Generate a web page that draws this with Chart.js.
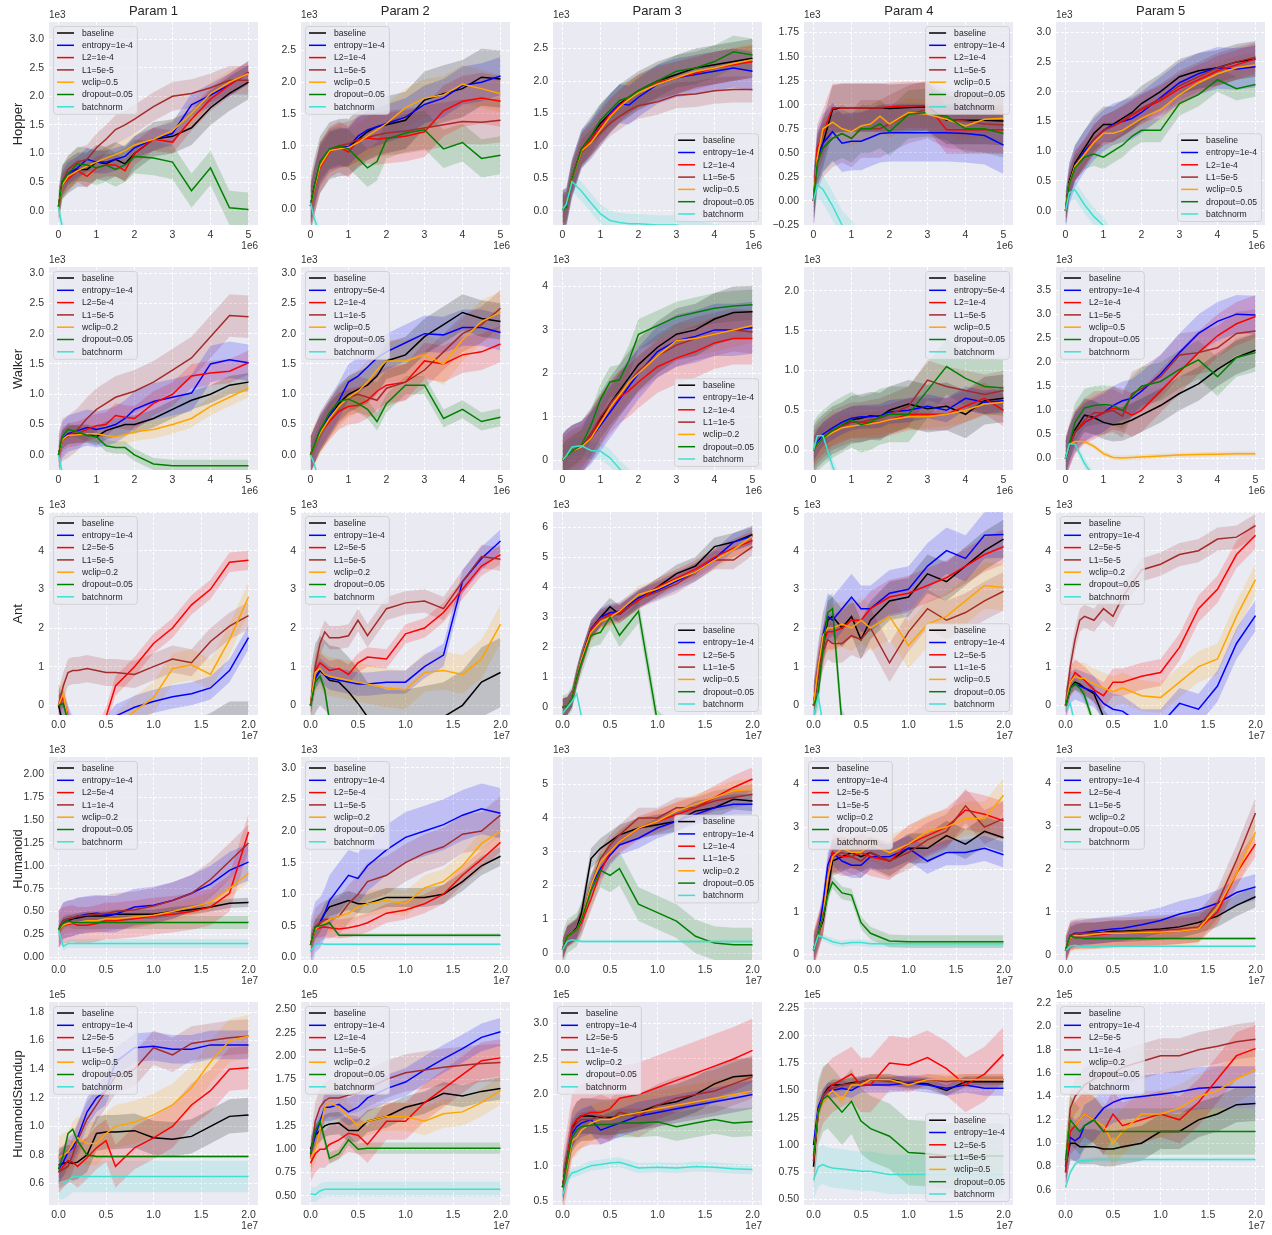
<!DOCTYPE html>
<html>
<head>
<meta charset="utf-8">
<script src="https://cdn.jsdelivr.net/npm/chart.js@4.4.0/dist/chart.umd.min.js"></script>
<style>
  body { margin: 0; width: 1272px; height: 1235px; background: #fff; position: relative; overflow: hidden;
         font-family: "Liberation Sans", Arial, sans-serif; }
  canvas { position: absolute; }
  .title { position: absolute; top: 3px; width: 209px; text-align: center; font-size: 13px; line-height: 16px; color: #262626; }
  .rowlab { position: absolute; width: 203px; height: 16px; line-height: 16px; text-align: center; font-size: 13px;
            color: #262626; transform: rotate(-90deg); }
</style>
</head>
<body>
<script>
"use strict";

// x grids: rows 1-2 in units of 1e6 steps, rows 3-5 in units of 1e7 steps
const stepsShort = [0, 0.1, 0.25, 0.5, 0.75, 1, 1.25, 1.5, 1.75, 2, 2.5, 3, 3.5, 4, 4.5, 5];
const stepsLong = [0, 0.05, 0.1, 0.15, 0.2, 0.3, 0.4, 0.5, 0.6, 0.8, 1.0, 1.2, 1.4, 1.6, 1.8, 2.0];
const xTicksShort = [0, 1, 2, 3, 4, 5];
const xTicksLong = [0, 0.5, 1, 1.5, 2];
const paramTitles = ["Param 1", "Param 2", "Param 3", "Param 4", "Param 5"];
const envNames = ["Hopper", "Walker", "Ant", "Humanoid", "HumanoidStandup"];
const yExponents = ["1e3", "1e3", "1e3", "1e3", "1e5"];
const xExponents = ["1e6", "1e6", "1e7", "1e7", "1e7"];

// ---------- Hopper ----------
const hopperP1Labels = ["baseline", "entropy=1e-4", "L2=1e-4", "L1=5e-5", "wclip=0.5", "dropout=0.05", "batchnorm"];
const hopperP1 = [
  [0.07,0.5,0.6,0.72,0.72,0.85,0.82,0.9,0.82,1.0,1.25,1.3,1.45,1.8,2.05,2.25],
  [0.07,0.5,0.65,0.75,0.9,0.85,0.85,0.9,0.95,1.1,1.25,1.35,1.85,2.02,2.2,2.42],
  [0.07,0.45,0.55,0.7,0.6,0.75,0.8,0.8,0.7,1.0,1.25,1.2,1.6,1.95,2.2,2.42],
  [0.07,0.5,0.72,0.85,0.9,1.1,1.25,1.42,1.5,1.6,1.82,2.0,2.05,2.15,2.28,2.28],
  [0.07,0.45,0.6,0.7,0.78,0.85,0.92,0.98,1.05,1.15,1.25,1.4,1.7,2.05,2.25,2.4],
  [0.07,0.5,0.65,0.82,0.8,0.75,0.8,0.72,0.8,0.95,0.92,0.85,0.35,0.75,0.05,0.02],
  [0.07,-0.3,-0.6,-0.8,-0.8,-0.8,-0.8,-0.8,-0.8,-0.8,-0.8,-0.8,-0.8,-0.8,-0.8,-0.8]
];
const hopperP1Spread = [0.3, 0.2, 0.2, 0.25, 0.2, 0.3, 0.15];
const hopperP1Y = [-0.25, 3.3, 0.5, 1];

const hopperP2Labels = ["baseline", "entropy=1e-4", "L2=1e-4", "L1=5e-5", "wclip=0.5", "dropout=0.05", "batchnorm"];
const hopperP2 = [
  [0.05,0.35,0.7,0.92,0.97,0.98,1.1,1.22,1.3,1.33,1.4,1.72,1.82,1.9,2.08,2.05],
  [0.05,0.35,0.7,0.92,0.97,0.98,1.15,1.25,1.3,1.35,1.45,1.65,1.75,1.95,2.0,2.1],
  [0.05,0.3,0.65,0.9,0.98,0.9,1.08,1.12,1.1,1.12,1.15,1.22,1.55,1.7,1.75,1.7],
  [0.05,0.32,0.7,0.92,1.0,1.03,1.1,1.13,1.17,1.2,1.23,1.28,1.33,1.38,1.37,1.4],
  [0.05,0.32,0.68,0.92,0.95,0.97,1.05,1.15,1.25,1.35,1.6,1.75,1.8,1.97,1.9,1.82],
  [0.05,0.35,0.75,0.95,1.0,0.95,0.8,0.65,0.75,1.1,1.2,1.25,0.95,1.05,0.8,0.85],
  [0.1,-0.15,-0.4,-0.8,-0.8,-0.8,-0.8,-0.8,-0.8,-0.8,-0.8,-0.8,-0.8,-0.8,-0.8,-0.8]
];
const hopperP2Spread = [0.45, 0.3, 0.4, 0.35, 0.3, 0.3, 0.1];
const hopperP2Y = [-0.25, 2.95, 0.5, 1];

const hopperP3Labels = ["baseline", "entropy=1e-4", "L2=1e-4", "L1=5e-5", "wclip=0.5", "dropout=0.05", "batchnorm"];
const hopperP3 = [
  [0.02,0.05,0.5,0.95,1.15,1.35,1.5,1.65,1.75,1.85,2.0,2.1,2.2,2.25,2.3,2.35],
  [0.02,0.05,0.5,0.95,1.1,1.3,1.5,1.65,1.63,1.75,1.95,2.05,2.1,2.15,2.2,2.15],
  [0.02,0.05,0.5,0.95,1.1,1.3,1.48,1.62,1.75,1.85,1.98,2.05,2.12,2.2,2.25,2.3],
  [0.02,0.05,0.5,0.9,1.05,1.2,1.35,1.45,1.55,1.62,1.68,1.78,1.8,1.85,1.87,1.87],
  [0.02,0.05,0.5,0.92,1.05,1.25,1.45,1.6,1.72,1.82,1.95,2.05,2.15,2.2,2.27,2.33],
  [0.02,0.05,0.5,0.95,1.15,1.4,1.55,1.7,1.75,1.85,2.0,2.15,2.2,2.3,2.45,2.4],
  [0.02,0.1,0.45,0.3,0.12,-0.05,-0.15,-0.18,-0.2,-0.2,-0.22,-0.22,-0.3,-0.35,-0.4,-0.4]
];
const hopperP3Spread = [0.3, 0.3, 0.25, 0.2, 0.25, 0.25, 0.15];
const hopperP3Y = [-0.22, 2.91, 0.5, 1];

const hopperP4Labels = ["baseline", "entropy=1e-4", "L2=1e-4", "L1=5e-5", "wclip=0.5", "dropout=0.05", "batchnorm"];
const hopperP4 = [
  [0,0.45,0.6,0.95,0.97,0.97,0.97,0.97,0.97,0.96,0.97,0.98,0.84,0.84,0.84,0.83],
  [0,0.45,0.6,0.72,0.6,0.62,0.62,0.66,0.7,0.71,0.71,0.71,0.71,0.7,0.68,0.58],
  [0,0.55,0.7,0.97,0.97,0.97,0.97,0.97,0.97,0.98,0.99,0.99,0.74,0.74,0.74,0.74],
  [0,0.4,0.55,0.65,0.7,0.65,0.75,0.75,0.75,0.8,0.9,0.95,0.85,0.83,0.8,0.79],
  [0,0.45,0.75,0.82,0.75,0.72,0.78,0.8,0.88,0.8,0.92,0.9,0.85,0.78,0.85,0.86],
  [0,0.4,0.55,0.65,0.7,0.65,0.75,0.75,0.8,0.72,0.9,0.92,0.88,0.75,0.75,0.7],
  [0,0.17,0.12,-0.05,-0.25,-0.35,-0.5,-0.5,-0.5,-0.5,-0.5,-0.5,-0.5,-0.5,-0.5,-0.5]
];
const hopperP4Spread = [0.25, 0.3, 0.25, 0.3, 0.15, 0.25, 0.15];
const hopperP4Y = [-0.25, 1.86, 0.25, 2];

const hopperP5Labels = ["baseline", "entropy=1e-4", "L2=1e-4", "L1=5e-5", "wclip=0.5", "dropout=0.05", "batchnorm"];
const hopperP5 = [
  [0,0.5,0.8,1.05,1.3,1.45,1.45,1.55,1.65,1.8,2.0,2.25,2.35,2.4,2.5,2.55],
  [0,0.45,0.75,1.0,1.2,1.35,1.45,1.5,1.55,1.65,1.9,2.15,2.3,2.4,2.38,2.42],
  [0,0.45,0.75,0.95,1.2,1.35,1.42,1.5,1.6,1.7,1.85,2.05,2.2,2.35,2.45,2.55],
  [0,0.45,0.75,0.95,1.2,1.35,1.42,1.52,1.62,1.72,1.88,2.1,2.25,2.4,2.5,2.58],
  [0,0.45,0.75,0.95,1.15,1.3,1.3,1.35,1.45,1.55,1.7,1.95,2.15,2.3,2.4,2.45],
  [0,0.45,0.72,0.9,0.95,0.9,1.0,1.1,1.25,1.35,1.35,1.8,1.95,2.2,2.05,2.12],
  [0,0.3,0.35,0.1,-0.1,-0.25,-0.5,-0.5,-0.5,-0.5,-0.5,-0.5,-0.5,-0.5,-0.5,-0.5]
];
const hopperP5Spread = [0.3, 0.35, 0.25, 0.25, 0.2, 0.2, 0.15];
const hopperP5Y = [-0.24, 3.17, 0.5, 1];

// ---------- Walker ----------
const walkerP1Labels = ["baseline", "entropy=1e-4", "L2=5e-4", "L1=5e-5", "wclip=0.2", "dropout=0.05", "batchnorm"];
const walkerP1 = [
  [0,0.25,0.33,0.35,0.35,0.3,0.4,0.45,0.5,0.5,0.6,0.75,0.9,1.0,1.15,1.2],
  [0,0.25,0.35,0.4,0.45,0.42,0.45,0.5,0.6,0.75,0.88,0.95,1.02,1.5,1.57,1.52],
  [0,0.25,0.32,0.35,0.42,0.48,0.5,0.65,0.62,0.6,0.85,1.0,1.3,1.35,1.38,1.52],
  [0,0.25,0.3,0.42,0.6,0.75,0.85,0.95,1.0,1.05,1.2,1.4,1.6,1.95,2.3,2.28],
  [0,0.25,0.32,0.33,0.35,0.35,0.32,0.3,0.33,0.38,0.42,0.5,0.6,0.8,0.95,1.1],
  [0,0.3,0.42,0.38,0.32,0.3,0.15,0.12,0.12,0.0,-0.15,-0.18,-0.18,-0.18,-0.18,-0.18],
  [0,-0.3,-0.6,-0.8,-0.8,-0.8,-0.8,-0.8,-0.8,-0.8,-0.8,-0.8,-0.8,-0.8,-0.8,-0.8]
];
const walkerP1Spread = [0.15, 0.3, 0.2, 0.35, 0.15, 0.1, 0.1];
const walkerP1Y = [-0.25, 3.1, 0.5, 1];

const walkerP2Labels = ["baseline", "entropy=5e-4", "L2=1e-4", "L1=1e-5", "wclip=0.5", "dropout=0.05", "batchnorm"];
const walkerP2 = [
  [0,0.15,0.35,0.6,0.85,1.0,1.08,1.15,1.3,1.55,1.65,1.95,2.15,2.35,2.25,2.2],
  [0,0.15,0.4,0.65,0.9,1.2,1.3,1.45,1.6,1.7,1.85,2.0,1.98,2.1,2.1,2.02],
  [0,0.15,0.35,0.55,0.72,0.8,0.82,0.9,1.05,1.15,1.2,1.55,1.5,1.65,1.7,1.83],
  [0,0.15,0.35,0.6,0.8,0.95,1.0,0.95,0.9,1.1,1.2,1.4,1.7,2.0,2.15,2.42],
  [0,0.15,0.35,0.6,0.8,0.95,1.05,1.2,1.4,1.55,1.55,1.65,1.5,1.9,2.2,2.35],
  [0,0.15,0.4,0.7,0.88,0.92,0.85,0.75,0.55,0.85,1.15,1.15,0.6,0.75,0.55,0.62],
  [0,-0.15,-0.5,-0.8,-0.8,-0.8,-0.8,-0.8,-0.8,-0.8,-0.8,-0.8,-0.8,-0.8,-0.8,-0.8]
];
const walkerP2Spread = [0.3, 0.3, 0.3, 0.3, 0.35, 0.15, 0.05];
const walkerP2Y = [-0.25, 3.1, 0.5, 1];

const walkerP3Labels = ["baseline", "entropy=1e-4", "L2=1e-4", "L1=1e-5", "wclip=0.2", "dropout=0.05", "batchnorm"];
const walkerP3 = [
  [0,0.1,0.2,0.3,0.6,0.95,1.3,1.6,1.9,2.2,2.6,2.9,3.0,3.25,3.4,3.42],
  [0,0.1,0.2,0.3,0.5,0.8,1.1,1.4,1.7,2.0,2.5,2.75,2.85,3.0,3.0,3.05],
  [0,0.1,0.2,0.3,0.55,0.9,1.2,1.45,1.6,1.8,2.15,2.35,2.5,2.7,2.8,2.8],
  [0,0.1,0.2,0.3,0.6,1.0,1.3,1.55,1.8,2.05,2.4,2.65,2.8,2.9,3.0,2.95],
  [0,0.1,0.2,0.3,0.5,0.85,1.2,1.5,1.8,2.0,2.4,2.75,2.8,2.9,3.0,3.1],
  [0,0.1,0.2,0.35,0.8,1.4,1.8,1.85,2.3,2.9,3.1,3.3,3.4,3.5,3.55,3.58],
  [0,0.1,0.3,0.33,0.22,0.2,0.05,-0.2,-0.4,-0.6,-0.6,-0.6,-0.6,-0.6,-0.6,-0.6]
];
const walkerP3Spread = [0.6, 0.6, 0.6, 0.5, 0.4, 0.35, 0.2];
const walkerP3Y = [-0.23, 4.45, 1, 0];

const walkerP4Labels = ["baseline", "entropy=5e-4", "L2=1e-4", "L1=5e-5", "wclip=0.5", "dropout=0.05", "batchnorm"];
const walkerP4 = [
  [0,0.08,0.15,0.25,0.3,0.38,0.4,0.43,0.42,0.5,0.58,0.52,0.55,0.45,0.62,0.65],
  [0,0.1,0.2,0.28,0.35,0.4,0.42,0.42,0.43,0.48,0.5,0.55,0.5,0.65,0.6,0.62],
  [0,0.08,0.15,0.25,0.3,0.35,0.35,0.35,0.35,0.38,0.45,0.45,0.45,0.55,0.65,0.5],
  [0,0.08,0.15,0.25,0.3,0.35,0.35,0.38,0.4,0.45,0.55,0.88,0.8,0.75,0.7,0.75],
  [0,0.08,0.15,0.22,0.28,0.3,0.32,0.33,0.35,0.38,0.42,0.42,0.45,0.5,0.58,0.6],
  [0,0.08,0.15,0.25,0.32,0.38,0.32,0.35,0.42,0.45,0.45,0.75,1.05,0.9,0.8,0.78],
  [0,0.18,0.18,-0.2,-0.5,-0.5,-0.5,-0.5,-0.5,-0.5,-0.5,-0.5,-0.5,-0.5,-0.5,-0.5]
];
const walkerP4Spread = [0.3, 0.15, 0.2, 0.25, 0.15, 0.35, 0.1];
const walkerP4Y = [-0.25, 2.3, 0.5, 1];

const walkerP5Labels = ["baseline", "entropy=1e-4", "L2=1e-4", "L1=5e-5", "wclip=0.5", "dropout=0.05", "batchnorm"];
const walkerP5 = [
  [0,0.3,0.6,0.9,0.85,0.75,0.7,0.72,0.8,0.9,1.1,1.35,1.55,1.85,2.1,2.25],
  [0,0.25,0.55,0.75,0.85,0.95,1.1,1.2,1.25,1.4,1.75,2.2,2.6,2.85,3.0,2.98],
  [0,0.25,0.55,0.75,0.85,0.95,1.05,1.0,0.9,1.0,1.4,1.8,2.2,2.55,2.8,2.95],
  [0,0.25,0.55,0.8,0.95,0.95,1.0,0.88,1.35,1.45,1.7,2.15,2.2,2.3,2.6,2.65],
  [0,0.3,0.35,0.35,0.25,0.1,0.02,0.01,0.02,0.03,0.05,0.07,0.08,0.09,0.1,0.1],
  [0,0.3,0.75,1.05,1.1,1.12,1.1,1.0,1.3,1.5,1.6,1.85,2.05,1.7,2.1,2.2],
  [0,0.3,0.3,-0.1,-0.4,-0.6,-0.6,-0.6,-0.6,-0.6,-0.6,-0.6,-0.6,-0.6,-0.6,-0.6]
];
const walkerP5Spread = [0.35, 0.4, 0.45, 0.45, 0.05, 0.4, 0.1];
const walkerP5Y = [-0.24, 3.98, 0.5, 1];

// ---------- Ant ----------
const antP1Labels = ["baseline", "entropy=1e-4", "L2=5e-5", "L1=5e-5", "wclip=0.2", "dropout=0.05", "batchnorm"];
const antP1 = [
  [0,-0.5,-1,-1,-1,-1,-1,-1,-1,-1,-1,-1,-1,-0.8,-0.5,-0.5],
  [0,0.05,-0.3,-0.6,-0.8,-0.9,-0.8,-0.6,-0.28,-0.05,0.1,0.22,0.3,0.45,0.9,1.75],
  [0,0.2,-0.3,-0.8,-1,-1,-0.8,-0.3,0.5,1.0,1.6,2.0,2.6,3.0,3.7,3.75],
  [0,0.5,0.85,0.9,0.9,0.95,0.9,0.85,0.85,0.8,1.0,1.2,1.1,1.65,2.05,2.32],
  [0,0.3,-0.4,-1,-1,-1,-1,-1,-0.6,-0.15,0.2,0.95,1.05,0.8,1.7,2.8],
  [0,0.05,-0.4,-1,-1,-1,-1,-1,-1,-1,-1,-1,-1,-1,-1,-1],
  [-0.3,-1,-1,-1,-1,-1,-1,-1,-1,-1,-1,-1,-1,-1,-1,-1]
];
const antP1Spread = [0.6, 0.3, 0.25, 0.35, 0.4, 0.1, 0.1];
const antP1Y = [-0.25, 5.0, 1, 0];

const antP2Labels = ["baseline", "entropy=1e-4", "L2=5e-5", "L1=5e-5", "wclip=0.2", "dropout=0.05", "batchnorm"];
const antP2 = [
  [0,0.7,0.9,0.78,0.65,0.6,0.35,0.05,-0.3,-0.5,-0.5,-0.4,-0.3,0.0,0.6,0.85],
  [0,0.7,0.92,0.8,0.7,0.65,0.6,0.55,0.55,0.6,0.6,1.0,1.3,3.2,3.8,4.25],
  [0,0.9,1.1,1.0,0.9,0.95,0.8,1.1,1.25,1.2,1.85,2.0,2.4,3.0,3.6,3.9],
  [0,1.0,1.6,1.9,1.75,1.75,1.8,2.2,1.8,2.5,2.65,2.7,2.5,3.2,3.85,3.78],
  [0,0.85,0.95,0.8,0.75,0.7,0.65,0.6,0.55,0.45,0.4,0.85,0.9,0.8,1.2,2.1],
  [0,0.6,0.75,0.4,-0.4,-1,-1,-1,-1,-1,-1,-1,-1,-1,-1,-1],
  [-0.3,-1,-1,-1,-1,-1,-1,-1,-1,-1,-1,-1,-1,-1,-1,-1]
];
const antP2Spread = [0.9, 0.3, 0.25, 0.3, 0.5, 0.15, 0.1];
const antP2Y = [-0.25, 5.0, 1, 0];

const antP3Labels = ["baseline", "entropy=1e-4", "L2=5e-5", "L1=1e-5", "wclip=0.5", "dropout=0.05", "batchnorm"];
const antP3 = [
  [0,0.05,0.3,1.0,1.6,2.6,3.0,3.35,3.1,3.6,4.0,4.45,4.7,5.35,5.5,5.75],
  [0,0.05,0.3,1.0,1.6,2.6,3.0,3.15,3.2,3.65,3.9,4.2,4.5,4.95,5.5,5.7],
  [0,0.05,0.3,1.0,1.6,2.6,2.95,3.1,3.15,3.55,4.0,4.3,4.6,5.0,5.3,5.55],
  [0,0.05,0.3,1.0,1.6,2.5,2.95,3.05,3.1,3.6,3.85,4.1,4.5,4.9,4.9,5.35],
  [0,0.05,0.3,1.0,1.6,2.5,2.85,3.0,3.2,3.75,3.95,4.25,4.5,4.9,5.25,5.7],
  [0,0.05,0.3,1.0,1.5,2.4,2.5,3.0,2.4,3.2,-0.5,-1,-1,-1,-1,-1],
  [-0.2,0.0,0.2,0.45,-0.3,-1,-1,-1,-1,-1,-1,-1,-1,-1,-1,-1]
];
const antP3Spread = [0.3, 0.3, 0.3, 0.3, 0.3, 0.4, 0.1];
const antP3Y = [-0.25, 6.5, 1, 0];

const antP4Labels = ["baseline", "entropy=1e-4", "L2=5e-5", "L1=1e-5", "wclip=0.5", "dropout=0.05", "batchnorm"];
const antP4 = [
  [0,0.8,1.5,2.2,2.3,2.0,2.3,1.7,2.2,2.7,2.8,3.4,3.2,3.6,4.0,4.3],
  [0,1.0,1.8,2.3,2.2,2.5,2.8,2.5,2.5,2.9,3.0,3.6,4.0,3.8,4.4,4.42],
  [0,1.0,1.6,1.9,1.9,2.0,2.2,2.2,2.5,2.8,2.9,3.1,3.3,3.6,3.9,4.1],
  [0,0.8,1.4,1.7,1.6,1.6,1.8,1.7,2.0,1.1,1.9,2.5,2.2,2.4,2.7,2.95],
  [0,1.0,1.8,2.0,2.0,2.1,2.0,2.2,2.0,2.3,1.55,2.1,2.3,2.7,3.1,3.05],
  [0,0.3,1.5,2.4,2.5,-0.5,-1,-1,-1,-1,-1,-1,-1,-1,-1,-1],
  [-0.3,0.25,-0.5,-1,-1,-1,-1,-1,-1,-1,-1,-1,-1,-1,-1,-1]
];
const antP4Spread = [0.5, 0.6, 0.45, 0.5, 0.6, 0.4, 0.1];
const antP4Y = [-0.25, 5.0, 1, 0];

const antP5Labels = ["baseline", "entropy=1e-4", "L2=5e-5", "L1=5e-5", "wclip=0.2", "dropout=0.05", "batchnorm"];
const antP5 = [
  [0,0.45,0.6,0.55,0.45,0.3,-0.3,-0.6,-1,-1,-1,-1,-1,-1,-1,-1],
  [0,0.45,0.55,0.5,0.45,0.35,0.05,-0.1,-0.15,-0.5,-0.5,0.05,-0.1,0.5,1.6,2.32],
  [0,0.6,0.85,0.75,0.65,0.4,0.25,0.6,0.6,0.75,0.85,1.5,2.5,3.0,3.9,4.4],
  [0,1.0,1.7,2.2,2.3,2.2,2.5,2.3,2.8,3.5,3.65,3.9,4.0,4.3,4.35,4.65],
  [0,0.6,0.75,0.7,0.7,0.55,0.45,0.35,0.45,0.25,0.2,0.6,1.0,1.2,2.3,3.25],
  [0,0.45,0.55,0.45,0.25,-0.5,-1,-1,-1,-1,-1,-1,-1,-1,-1,-1],
  [-0.1,0.05,-0.5,-1,-1,-1,-1,-1,-1,-1,-1,-1,-1,-1,-1,-1]
];
const antP5Spread = [0.2, 0.4, 0.35, 0.3, 0.4, 0.15, 0.1];
const antP5Y = [-0.25, 5.0, 1, 0];

// ---------- Humanoid ----------
const humanoidP1Labels = ["baseline", "entropy=1e-4", "L2=5e-4", "L1=1e-4", "wclip=0.2", "dropout=0.05", "batchnorm"];
const humanoidP1 = [
  [0.3,0.38,0.4,0.42,0.43,0.45,0.45,0.45,0.47,0.47,0.47,0.5,0.52,0.55,0.59,0.6],
  [0.3,0.4,0.42,0.43,0.45,0.47,0.48,0.47,0.47,0.55,0.57,0.62,0.7,0.8,0.95,1.04],
  [0.3,0.35,0.36,0.37,0.35,0.35,0.37,0.4,0.4,0.42,0.45,0.47,0.5,0.55,0.7,1.37],
  [0.3,0.4,0.42,0.43,0.45,0.46,0.47,0.48,0.5,0.52,0.56,0.62,0.7,0.85,1.05,1.25],
  [0.3,0.35,0.37,0.38,0.38,0.4,0.4,0.42,0.42,0.44,0.46,0.5,0.55,0.6,0.75,0.92],
  [0.3,0.38,0.4,0.38,0.38,0.38,0.38,0.38,0.38,0.38,0.38,0.38,0.38,0.38,0.38,0.38],
  [0.3,0.12,0.15,0.15,0.15,0.15,0.15,0.15,0.15,0.15,0.15,0.15,0.15,0.15,0.15,0.15]
];
const humanoidP1Spread = [0.05, 0.2, 0.2, 0.2, 0.1, 0.07, 0.05];
const humanoidP1Y = [-0.03, 2.19, 0.25, 2];

const humanoidP2Labels = ["baseline", "entropy=1e-4", "L2=5e-4", "L1=5e-5", "wclip=0.2", "dropout=0.05", "batchnorm"];
const humanoidP2 = [
  [0.2,0.45,0.55,0.7,0.8,0.85,0.9,0.85,0.85,0.95,0.95,0.95,1.0,1.2,1.45,1.6],
  [0.2,0.48,0.55,0.7,0.9,1.1,1.3,1.25,1.45,1.7,1.9,2.0,2.1,2.25,2.35,2.28],
  [0.2,0.45,0.47,0.48,0.47,0.45,0.47,0.5,0.55,0.7,0.75,0.85,1.0,1.3,1.55,1.82],
  [0.2,0.48,0.55,0.6,0.6,0.65,0.85,1.0,1.2,1.3,1.5,1.65,1.75,1.95,2.0,2.25],
  [0.2,0.45,0.5,0.55,0.6,0.65,0.7,0.8,0.85,0.9,0.85,1.1,1.2,1.45,1.8,2.0],
  [0.2,0.48,0.5,0.52,0.55,0.35,0.35,0.35,0.35,0.35,0.35,0.35,0.35,0.35,0.35,0.35],
  [0.1,0.2,0.22,0.21,0.21,0.21,0.21,0.21,0.21,0.21,0.21,0.21,0.21,0.21,0.21,0.21]
];
const humanoidP2Spread = [0.15, 0.4, 0.15, 0.3, 0.2, 0.03, 0.02];
const humanoidP2Y = [-0.04, 3.17, 0.5, 1];

const humanoidP3Labels = ["baseline", "entropy=1e-4", "L2=1e-4", "L1=1e-5", "wclip=0.2", "dropout=0.05", "batchnorm"];
const humanoidP3 = [
  [0.1,0.5,0.6,0.75,1.2,2.8,3.1,3.3,3.5,3.7,3.8,3.9,4.2,4.3,4.55,4.5],
  [0.1,0.5,0.6,0.7,1.0,2.0,2.5,2.9,3.2,3.4,3.7,3.9,4.1,4.3,4.4,4.4],
  [0.1,0.5,0.6,0.7,0.9,1.6,2.4,3.0,3.3,3.7,3.9,4.1,4.3,4.6,4.9,5.15],
  [0.1,0.5,0.6,0.7,1.0,2.0,2.8,3.2,3.5,4.0,4.0,4.3,4.3,4.5,4.6,4.7],
  [0.1,0.5,0.6,0.7,1.0,2.0,2.7,3.0,3.3,3.7,3.9,4.2,4.4,4.6,4.8,4.85],
  [0.1,0.5,0.6,0.7,1.0,1.85,2.45,2.3,2.5,1.45,1.2,0.95,0.5,0.3,0.25,0.25],
  [0.1,0.35,0.4,0.38,0.35,0.35,0.35,0.35,0.35,0.35,0.35,0.35,0.35,0.35,0.35,0.35]
];
const humanoidP3Spread = [0.3, 0.3, 0.35, 0.3, 0.3, 0.5, 0.05];
const humanoidP3Y = [-0.2, 5.8, 1, 0];

const humanoidP4Labels = ["baseline", "entropy=1e-4", "L2=5e-5", "L1=5e-5", "wclip=0.2", "dropout=0.05", "batchnorm"];
const humanoidP4 = [
  [0.1,0.5,0.8,1.5,2.2,2.3,2.4,2.3,2.4,2.2,2.5,2.5,2.8,2.6,2.9,2.75],
  [0.1,0.5,1.2,2.1,2.4,2.2,2.1,2.1,2.3,2.3,2.5,2.2,2.4,2.4,2.5,2.35],
  [0.1,0.5,0.9,1.8,2.4,2.3,2.3,2.4,2.3,2.2,2.6,2.8,3.0,3.4,3.3,3.15],
  [0.1,0.5,0.9,1.8,2.3,2.4,2.3,2.2,2.4,2.2,2.4,2.7,2.9,3.5,3.0,3.2],
  [0.1,0.5,0.9,1.8,2.3,2.5,2.4,2.4,2.6,2.4,2.6,2.9,3.0,3.2,3.2,3.75],
  [0.1,0.5,0.9,1.4,1.7,1.45,1.4,0.75,0.5,0.32,0.3,0.3,0.3,0.3,0.3,0.3],
  [0.1,0.45,0.4,0.35,0.3,0.25,0.28,0.28,0.25,0.25,0.25,0.25,0.25,0.25,0.25,0.25]
];
const humanoidP4Spread = [0.35, 0.3, 0.45, 0.4, 0.4, 0.15, 0.08];
const humanoidP4Y = [-0.13, 4.65, 1, 0];

const humanoidP5Labels = ["baseline", "entropy=1e-4", "L2=5e-4", "L1=5e-5", "wclip=0.2", "dropout=0.05", "batchnorm"];
const humanoidP5 = [
  [0.1,0.4,0.45,0.48,0.5,0.5,0.52,0.55,0.55,0.57,0.6,0.65,0.75,0.9,1.15,1.35],
  [0.1,0.45,0.5,0.5,0.52,0.55,0.58,0.6,0.62,0.7,0.8,0.95,1.05,1.2,1.45,1.58],
  [0.1,0.4,0.45,0.45,0.45,0.45,0.48,0.5,0.5,0.52,0.53,0.55,0.6,1.0,1.9,2.58],
  [0.1,0.45,0.48,0.5,0.5,0.5,0.5,0.52,0.53,0.55,0.57,0.6,0.65,1.2,2.2,3.3],
  [0.1,0.4,0.45,0.45,0.45,0.48,0.5,0.5,0.5,0.52,0.53,0.55,0.6,1.1,1.9,2.85],
  [0.1,0.45,0.4,0.4,0.38,0.38,0.38,0.38,0.38,0.38,0.38,0.38,0.38,0.38,0.38,0.38],
  [0.1,0.2,0.22,0.2,0.2,0.2,0.2,0.2,0.2,0.2,0.2,0.2,0.2,0.2,0.2,0.2]
];
const humanoidP5Spread = [0.25, 0.3, 0.3, 0.35, 0.35, 0.03, 0.02];
const humanoidP5Y = [-0.12, 4.6, 1, 0];

// ---------- HumanoidStandup (1e5) ----------
const standupP1Labels = ["baseline", "entropy=1e-4", "L2=5e-5", "L1=5e-5", "wclip=0.5", "dropout=0.05", "batchnorm"];
const standupP1 = [
  [0.73,0.74,0.75,0.74,0.75,0.8,0.95,0.96,0.96,0.97,0.92,0.91,0.93,1.0,1.07,1.08],
  [0.7,0.75,0.82,0.85,0.92,1.1,1.2,1.25,1.45,1.55,1.56,1.54,1.54,1.57,1.57,1.57],
  [0.68,0.72,0.76,0.75,0.72,0.78,0.85,0.9,0.72,0.85,0.92,1.0,1.15,1.25,1.4,1.41],
  [0.68,0.7,0.72,0.8,0.9,1.05,1.15,1.25,1.35,1.4,1.55,1.5,1.58,1.6,1.62,1.63],
  [0.78,0.8,0.82,0.88,0.92,0.88,0.88,0.95,1.0,1.03,1.08,1.15,1.27,1.45,1.6,1.63],
  [0.7,0.8,0.95,0.98,0.9,0.8,0.79,0.79,0.79,0.79,0.79,0.79,0.79,0.79,0.79,0.79],
  [0.6,0.6,0.62,0.65,0.65,0.65,0.65,0.65,0.65,0.65,0.65,0.65,0.65,0.65,0.65,0.65]
];
const standupP1Spread = [0.12, 0.1, 0.15, 0.12, 0.15, 0.01, 0.11];
const standupP1Y = [0.45, 1.87, 0.2, 1];

const standupP2Labels = ["baseline", "entropy=1e-4", "L2=1e-4", "L1=5e-5", "wclip=0.2", "dropout=0.05", "batchnorm"];
const standupP2 = [
  [1.0,1.15,1.2,1.25,1.27,1.28,1.2,1.2,1.3,1.35,1.45,1.5,1.6,1.57,1.62,1.65],
  [0.95,1.15,1.3,1.45,1.45,1.48,1.4,1.45,1.55,1.65,1.72,1.85,1.97,2.08,2.2,2.26],
  [0.85,0.95,1.0,1.0,1.05,1.1,1.17,1.15,1.05,1.3,1.3,1.5,1.65,1.8,1.95,1.98],
  [0.9,1.3,1.45,1.52,1.55,1.55,1.58,1.6,1.65,1.75,1.82,1.85,1.88,1.9,1.92,1.93],
  [0.9,1.0,1.2,1.45,1.5,1.45,1.35,1.25,1.3,1.35,1.35,1.3,1.38,1.4,1.5,1.63],
  [0.95,1.2,1.3,1.1,0.9,0.95,1.1,1.0,1.01,1.01,1.01,1.01,1.01,1.01,1.01,1.01],
  [0.52,0.51,0.55,0.57,0.57,0.57,0.57,0.57,0.57,0.57,0.57,0.57,0.57,0.57,0.57,0.57]
];
const standupP2Spread = [0.12, 0.15, 0.2, 0.2, 0.15, 0.06, 0.08];
const standupP2Y = [0.4, 2.58, 0.25, 2];

const standupP3Labels = ["baseline", "entropy=1e-4", "L2=5e-5", "L1=1e-5", "wclip=0.2", "dropout=0.05", "batchnorm"];
const standupP3 = [
  [0.7,1.1,1.5,1.65,1.7,1.7,1.68,1.68,1.7,1.75,1.85,1.9,2.0,2.15,2.25,2.27],
  [0.7,1.1,1.45,1.55,1.6,1.65,1.5,1.55,1.6,1.7,1.75,1.8,1.85,1.9,1.95,2.0],
  [0.7,1.1,1.55,1.65,1.7,1.75,1.75,1.8,1.95,2.0,2.1,2.2,2.3,2.4,2.5,2.62],
  [0.7,1.1,1.5,1.6,1.65,1.65,1.7,1.65,1.75,1.7,1.85,1.95,2.0,2.05,2.15,2.25],
  [0.7,1.0,1.35,1.4,1.5,1.6,1.65,1.65,1.7,1.75,1.8,1.85,1.9,1.95,2.0,2.05],
  [0.7,1.05,1.4,1.5,1.55,1.57,1.58,1.58,1.6,1.6,1.62,1.55,1.6,1.65,1.6,1.62],
  [0.58,0.8,0.9,0.92,0.95,1.0,1.02,1.04,1.05,0.97,0.98,0.97,0.99,0.98,0.96,0.95]
];
const standupP3Spread = [0.25, 0.2, 0.45, 0.3, 0.25, 0.2, 0.07];
const standupP3Y = [0.45, 3.3, 0.5, 1];

const standupP4Labels = ["baseline", "entropy=1e-4", "L2=5e-5", "L1=5e-5", "wclip=0.5", "dropout=0.05", "batchnorm"];
const standupP4 = [
  [0.8,1.3,1.45,1.52,1.55,1.55,1.57,1.58,1.6,1.6,1.57,1.56,1.5,1.58,1.58,1.58],
  [1.0,1.35,1.45,1.5,1.5,1.52,1.5,1.55,1.55,1.55,1.57,1.55,1.52,1.55,1.52,1.52],
  [0.85,1.3,1.45,1.5,1.55,1.6,1.65,1.55,1.55,1.75,1.73,1.8,1.7,1.55,1.65,1.83],
  [0.85,1.3,1.45,1.5,1.52,1.55,1.56,1.58,1.6,1.58,1.58,1.6,1.58,1.6,1.6,1.6],
  [0.9,1.3,1.4,1.45,1.5,1.42,1.55,1.55,1.6,1.6,1.55,1.6,1.6,1.6,1.6,1.6],
  [0.9,1.3,1.42,1.45,1.4,1.3,1.4,1.22,1.15,1.08,0.93,0.92,0.9,0.9,0.9,0.9],
  [0.68,0.8,0.82,0.8,0.79,0.78,0.77,0.76,0.76,0.73,0.73,0.73,0.73,0.73,0.73,0.73]
];
const standupP4Spread = [0.05, 0.07, 0.25, 0.05, 0.05, 0.3, 0.18];
const standupP4Y = [0.45, 2.31, 0.25, 2];

const standupP5Labels = ["baseline", "entropy=1e-4", "L2=5e-5", "L1=1e-4", "wclip=0.2", "dropout=0.05", "batchnorm"];
const standupP5 = [
  [0.8,1.0,1.0,0.97,0.97,0.97,0.95,0.95,0.97,1.0,1.1,1.1,1.2,1.25,1.33,1.34],
  [0.8,1.05,1.02,1.05,1.15,1.2,1.3,1.35,1.38,1.4,1.42,1.44,1.47,1.48,1.48,1.48],
  [0.75,1.1,1.15,1.2,1.25,1.2,1.1,1.25,1.15,1.2,1.25,1.2,1.35,1.55,1.75,1.81],
  [0.75,1.3,1.4,1.45,1.5,1.55,1.6,1.6,1.65,1.7,1.75,1.75,1.8,1.83,1.87,1.89],
  [0.85,1.2,1.15,1.2,1.25,1.2,1.15,1.0,1.1,1.25,1.25,1.3,1.4,1.45,1.55,1.63],
  [0.85,1.2,1.15,1.1,1.15,1.2,1.1,1.1,1.1,1.1,1.1,1.1,1.1,1.1,1.1,1.1],
  [0.62,0.75,0.82,0.85,0.85,0.86,0.86,0.86,0.86,0.86,0.86,0.86,0.86,0.86,0.86,0.86]
];
const standupP5Spread = [0.15, 0.18, 0.2, 0.15, 0.2, 0.2, 0.02];
const standupP5Y = [0.47, 2.21, 0.2, 1];

// series colours (matplotlib names: black, blue, red, brown, orange, green, turquoise)
const lineColors = ["#000000", "#0000ff", "#ff0000", "#a52a2a", "#ffa500", "#008000", "#40e0d0"];
const bandColors = ["rgba(0,0,0,0.18)", "rgba(0,0,255,0.18)", "rgba(255,0,0,0.18)", "rgba(165,42,42,0.18)",
                    "rgba(255,165,0,0.18)", "rgba(0,128,0,0.18)", "rgba(64,224,208,0.18)"];

// grid of panels: [series, spread, labels, y range, legend position]
const panelRows = [
  [[hopperP1, hopperP1Spread, hopperP1Labels, hopperP1Y, "ul"],
   [hopperP2, hopperP2Spread, hopperP2Labels, hopperP2Y, "ul"],
   [hopperP3, hopperP3Spread, hopperP3Labels, hopperP3Y, "lr"],
   [hopperP4, hopperP4Spread, hopperP4Labels, hopperP4Y, "ur"],
   [hopperP5, hopperP5Spread, hopperP5Labels, hopperP5Y, "lr"]],
  [[walkerP1, walkerP1Spread, walkerP1Labels, walkerP1Y, "ul"],
   [walkerP2, walkerP2Spread, walkerP2Labels, walkerP2Y, "ul"],
   [walkerP3, walkerP3Spread, walkerP3Labels, walkerP3Y, "lr"],
   [walkerP4, walkerP4Spread, walkerP4Labels, walkerP4Y, "ur"],
   [walkerP5, walkerP5Spread, walkerP5Labels, walkerP5Y, "ul"]],
  [[antP1, antP1Spread, antP1Labels, antP1Y, "ul"],
   [antP2, antP2Spread, antP2Labels, antP2Y, "ul"],
   [antP3, antP3Spread, antP3Labels, antP3Y, "lr"],
   [antP4, antP4Spread, antP4Labels, antP4Y, "lr"],
   [antP5, antP5Spread, antP5Labels, antP5Y, "ul"]],
  [[humanoidP1, humanoidP1Spread, humanoidP1Labels, humanoidP1Y, "ul"],
   [humanoidP2, humanoidP2Spread, humanoidP2Labels, humanoidP2Y, "ul"],
   [humanoidP3, humanoidP3Spread, humanoidP3Labels, humanoidP3Y, "cr"],
   [humanoidP4, humanoidP4Spread, humanoidP4Labels, humanoidP4Y, "ul"],
   [humanoidP5, humanoidP5Spread, humanoidP5Labels, humanoidP5Y, "ul"]],
  [[standupP1, standupP1Spread, standupP1Labels, standupP1Y, "ul"],
   [standupP2, standupP2Spread, standupP2Labels, standupP2Y, "ul"],
   [standupP3, standupP3Spread, standupP3Labels, standupP3Y, "ul"],
   [standupP4, standupP4Spread, standupP4Labels, standupP4Y, "lr"],
   [standupP5, standupP5Spread, standupP5Labels, standupP5Y, "ul"]]
];

// layout of the plot areas on the page
const FONT = '"Liberation Sans", Arial, sans-serif';
const plotW = 209, plotH = 203;
const padL = 46, padT = 22, padR = 6, padB = 30;
const plotLeft = [49, 300.8, 552.6, 804.4, 1056.2];
const plotTop = [22, 267, 512, 757, 1002];

function fmtTick(v, dec) {
  return v.toFixed(dec).replace("-", "\u2212");
}

function tickValues(r) {
  const out = [];
  const k0 = Math.ceil(r[0] / r[2] - 1e-9);
  for (let k = k0; k * r[2] <= r[1] + 1e-9; k++) out.push(+(k * r[2]).toFixed(4));
  return out;
}

function decorPlugin(labels, legendPos, yExp, xExp) {
  return {
    id: "decor",
    beforeDraw(chart) {
      const a = chart.chartArea, ctx = chart.ctx;
      ctx.save();
      ctx.fillStyle = "#eaeaf2";
      ctx.fillRect(a.left, a.top, a.right - a.left, a.bottom - a.top);
      ctx.restore();
    },
    afterDatasetsDraw(chart) {
      const a = chart.chartArea, ctx = chart.ctx;
      ctx.save();
      ctx.font = "8.6px " + FONT;
      const rowH = 12.3;
      let tw = 0;
      labels.forEach(t => { tw = Math.max(tw, ctx.measureText(t).width); });
      const w = tw + 33, h = rowH * 6 + 14;
      let x = a.left + 4, y = a.top + 4;
      if (legendPos === "ur" || legendPos === "lr" || legendPos === "cr") x = a.right - 4 - w;
      if (legendPos === "lr") y = a.bottom - 4 - h;
      if (legendPos === "cr") y = (a.top + a.bottom) / 2 - h / 2;
      ctx.beginPath();
      if (ctx.roundRect) ctx.roundRect(x + 0.5, y + 0.5, w, h, 3); else ctx.rect(x + 0.5, y + 0.5, w, h);
      ctx.fillStyle = "rgba(234,234,242,0.8)";
      ctx.fill();
      ctx.strokeStyle = "rgba(204,204,204,0.8)";
      ctx.lineWidth = 1;
      ctx.stroke();
      ctx.textBaseline = "middle";
      ctx.textAlign = "left";
      labels.forEach((t, k) => {
        const cy = y + 7 + k * rowH;
        ctx.beginPath();
        ctx.moveTo(x + 4, cy);
        ctx.lineTo(x + 21, cy);
        ctx.strokeStyle = lineColors[k];
        ctx.lineWidth = 1.5;
        ctx.stroke();
        ctx.fillStyle = "#262626";
        ctx.fillText(t, x + 29, cy + 0.5);
      });
      ctx.restore();
    },
    afterDraw(chart) {
      const a = chart.chartArea, ctx = chart.ctx;
      ctx.save();
      ctx.font = "10px " + FONT;
      ctx.fillStyle = "#333";
      ctx.textAlign = "left";
      ctx.textBaseline = "bottom";
      ctx.fillText(yExp, a.left, a.top - 2);
      ctx.textAlign = "right";
      ctx.textBaseline = "middle";
      ctx.fillText(xExp, a.right, a.bottom + 21);
      ctx.restore();
    }
  };
}

function makePanel(row, col, panel) {
  const [series, spread, labels, yr, legendPos] = panel;
  const long = row >= 2;
  const xs = long ? stepsLong : stepsShort;
  const xr = long ? [-0.1, 2.1] : [-0.25, 5.25];
  const xt = long ? xTicksLong : xTicksShort;
  const xDec = long ? 1 : 0;

  const canvas = document.createElement("canvas");
  canvas.width = padL + plotW + padR;
  canvas.height = padT + plotH + padB;
  canvas.style.left = (plotLeft[col] - padL) + "px";
  canvas.style.top = (plotTop[row] - padT) + "px";
  document.body.appendChild(canvas);

  const datasets = [];
  series.forEach((ys, k) => {
    datasets.push({
      data: xs.map((x, i) => ({ x: x, y: ys[i] - spread[k] })),
      borderWidth: 0, borderColor: "transparent", pointRadius: 0, fill: false, order: 50
    });
    datasets.push({
      data: xs.map((x, i) => ({ x: x, y: ys[i] + spread[k] })),
      borderWidth: 0, borderColor: "transparent", pointRadius: 0, fill: "-1",
      backgroundColor: bandColors[k], order: 50
    });
  });
  series.forEach((ys, k) => {
    datasets.push({
      label: labels[k],
      data: xs.map((x, i) => ({ x: x, y: ys[i] })),
      borderColor: lineColors[k], borderWidth: 1.5, pointRadius: 0, fill: false, order: 10 - k
    });
  });

  const yt = tickValues(yr);
  new Chart(canvas, {
    type: "line",
    data: { datasets: datasets },
    options: {
      responsive: false,
      animation: false,
      events: [],
      layout: { padding: { top: padT, right: padR, left: 0, bottom: 0 } },
      elements: { line: { tension: 0 } },
      plugins: { legend: { display: false }, tooltip: { enabled: false } },
      scales: {
        x: {
          type: "linear", min: xr[0], max: xr[1],
          afterBuildTicks: s => { s.ticks = xt.map(v => ({ value: v })); },
          afterFit: s => { s.height = padB; },
          grid: { color: "#ffffff", lineWidth: 1, drawTicks: false },
          border: { display: false, dash: [3, 2] },
          ticks: { color: "#333", font: { size: 10.5, family: FONT }, padding: 4, maxRotation: 0,
                   callback: v => fmtTick(v, xDec) }
        },
        y: {
          type: "linear", min: yr[0], max: yr[1],
          afterBuildTicks: s => { s.ticks = yt.map(v => ({ value: v })); },
          afterFit: s => { s.width = padL; },
          grid: { color: "#ffffff", lineWidth: 1, drawTicks: false },
          border: { display: false, dash: [3, 2] },
          ticks: { color: "#333", font: { size: 10.5, family: FONT }, padding: 5,
                   callback: v => fmtTick(v, yr[3]) }
        }
      }
    },
    plugins: [decorPlugin(labels, legendPos, yExponents[row], xExponents[row])]
  });
}

panelRows.forEach((rowPanels, r) => {
  rowPanels.forEach((p, c) => makePanel(r, c, p));
});

// column titles and row names
paramTitles.forEach((t, c) => {
  const d = document.createElement("div");
  d.className = "title";
  d.style.left = plotLeft[c] + "px";
  d.textContent = t;
  document.body.appendChild(d);
});
envNames.forEach((t, r) => {
  const d = document.createElement("div");
  d.className = "rowlab";
  d.style.left = (17 - plotH / 2) + "px";
  d.style.top = (plotTop[r] + plotH / 2 - 8) + "px";
  d.textContent = t;
  document.body.appendChild(d);
});
</script>
</body>
</html>
